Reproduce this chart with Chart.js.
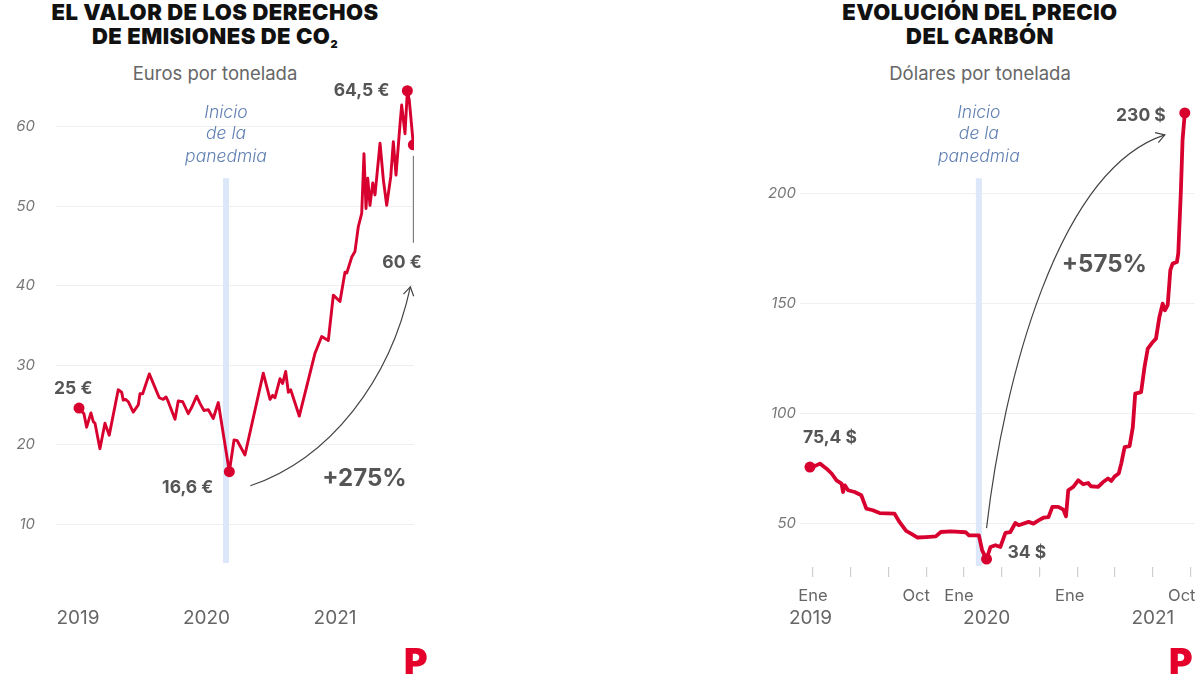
<!DOCTYPE html>
<html lang="es">
<head>
<meta charset="utf-8">
<title>CO2 y carbón</title>
<script src="https://cdn.jsdelivr.net/npm/chart.js@4.4.1/dist/chart.umd.min.js"></script>
<style>
  html, body { margin:0; padding:0; background:#fff; }
  body { width:1200px; height:675px; position:relative; overflow:hidden; font-family:Inter, "Noto Sans", sans-serif; }
  .title { position:absolute; top:0px; text-align:center; font-weight:900; font-size:22px; line-height:24px; color:#111; letter-spacing:0.5px; }
  .title sub { font-size:11px; vertical-align:-4px; }
  .sub { position:absolute; top:62px; text-align:center; font-size:18.5px; color:#666; }
  .logo { position:absolute; top:643px; font-weight:900; font-size:36px; color:#e4002b; line-height:36px; }
  canvas { position:absolute; top:0; }
</style>
</head>
<body>
<div class="title" style="left:15px;width:400px;">EL VALOR DE LOS DERECHOS<br>DE EMISIONES DE CO<sub>2</sub></div>
<div class="sub" style="left:15px;width:400px;">Euros por tonelada</div>
<div class="title" style="left:780px;width:400px;">EVOLUCIÓN DEL PRECIO<br>DEL CARBÓN</div>
<div class="sub" style="left:780px;width:400px;">Dólares por tonelada</div>
<canvas id="co2" width="440" height="675" style="left:0"></canvas>
<canvas id="coal" width="460" height="675" style="left:740px"></canvas>
<div class="logo" style="left:404px;">P</div>
<div class="logo" style="left:1169px;">P</div>
<script>
// Data: CO2 (meses desde ene-2019, euros/t)
const co2Months = [0.1,0.56,0.81,1.21,1.43,1.59,2.05,2.52,2.92,3.76,4.08,4.23,4.45,4.7,5.16,5.63,5.79,6.04,6.66,7.59,7.96,8.22,8.43,9.06,9.36,9.78,10.3,10.62,11.08,11.39,11.76,12.17,12.63,13.1,14.13,14.57,14.87,15.59,17.3,17.93,18.18,18.39,18.86,19.11,19.39,19.64,19.86,20.66,22.13,22.75,23.37,23.84,24.46,24.93,25.1,25.56,25.86,26.17,26.49,26.7,26.89,27.05,27.26,27.52,27.73,28.2,28.51,28.82,29.2,29.44,29.69,30.07,30.22,30.53,30.75,30.93,31.31];
const co2Values = [24.6,23.9,22.2,24.0,22.9,22.7,19.5,22.7,21.2,26.9,26.6,25.6,25.7,25.4,24.1,25.0,26.4,26.4,28.9,25.9,25.7,26.0,25.4,23.2,25.5,25.4,23.9,24.7,26.1,25.2,24.3,24.4,23.3,25.3,16.6,20.6,20.5,18.7,29.0,25.7,26.2,25.9,28.3,27.7,29.2,26.6,26.9,23.6,31.5,33.6,33.1,38.8,38.0,41.7,41.6,43.6,44.3,47.4,49.1,56.6,49.7,53.5,50.1,52.9,51.4,57.9,53.3,50.1,53.7,58.1,53.9,60.4,62.7,59.1,64.5,63.3,57.7];
const co2YTicks = [10,20,30,40,50,60];
const co2YearPos = [0,12,24];
const co2YearLabels = ['2019','2020','2021'];
const co2Pandemic = 13.82;

// Data: carbón (dólares/t)
const coalMonths = [-0.24,0.02,0.55,1.08,1.48,1.87,2.27,2.39,2.53,2.79,3.31,3.84,4.24,4.76,5.29,6.47,6.87,7.4,7.79,8.31,8.97,9.76,10.16,10.95,12.13,12.39,13.18,13.44,13.79,14.1,14.5,14.89,15.29,15.68,16.08,16.34,17.13,17.52,17.92,18.31,18.71,19.02,19.49,19.89,20.1,20.28,20.68,21.07,21.47,21.86,22.08,22.65,23.05,23.44,23.7,23.97,24.29,24.49,24.76,25.15,25.41,25.6,26.07,26.34,26.6,27.0,27.25,27.52,27.78,27.96,28.18,28.39,28.57,28.91,29.02,29.23,29.36,29.54];
const coalValues = [75.4,75.5,77.0,74.7,72.5,69.4,67.9,64.1,67.1,64.9,64.1,62.6,56.5,55.8,54.5,54.3,50.5,46.4,45.2,43.4,43.6,43.9,45.9,46.2,45.8,44.4,44.4,37.6,33.6,39.1,39.9,39.1,45.5,45.9,50.0,49.0,50.5,49.7,51.2,52.4,52.7,57.3,57.3,56.1,53.0,64.9,66.4,69.4,67.6,68.2,66.7,66.4,68.6,70.2,69.1,71.2,72.5,77.0,84.5,84.9,93.6,108.8,109.5,120.9,129.3,132.3,133.8,143.6,149.7,146.7,149.0,164.9,167.9,168.6,172.5,201.2,224.0,236.4];
const coalYTicks = [50,100,150,200];
const coalTickMonths = [0,3,6,9,12,15,18,21,24,27,30];
const coalMonthPos = [0,8.2,11.6,20.4,29.3];
const coalMonthLabels = ['Ene','Oct','Ene','Ene','Oct'];
const coalYearPos = [-0.2,13.8,27];
const coalYearLabels = ['2019','2020','2021'];
const coalPandemic = 13.18;

const RED = '#d7002f';
const DARK = '#555';
const FONT = 'Inter, "Noto Sans", sans-serif';

const pts = (xs, ys) => xs.map((x,i)=>({x, y:ys[i]}));
function keyPoints(xs, ys){
  let mn = 0, mx = 0;
  ys.forEach((v,i)=>{ if(v<ys[mn]) mn=i; if(v>ys[mx]) mx=i; });
  const last = ys.length-1;
  return { first:{x:xs[0],y:ys[0]}, min:{x:xs[mn],y:ys[mn]}, max:{x:xs[mx],y:ys[mx]}, last:{x:xs[last],y:ys[last]} };
}

function txt(ctx, s, x, y, opt){
  ctx.save();
  ctx.font = opt.font; ctx.fillStyle = opt.color || DARK;
  ctx.textAlign = opt.align || 'left'; ctx.textBaseline = 'middle';
  ctx.fillText(s, x, y);
  ctx.restore();
}
function arrow(ctx, p0, p1, p2, p3){
  ctx.save();
  ctx.strokeStyle = '#444'; ctx.lineWidth = 1.2;
  ctx.beginPath(); ctx.moveTo(p0.x,p0.y);
  ctx.bezierCurveTo(p1.x,p1.y,p2.x,p2.y,p3.x,p3.y); ctx.stroke();
  const a = Math.atan2(p3.y-p2.y, p3.x-p2.x), L = 10, w = 0.55;
  ctx.beginPath();
  ctx.moveTo(p3.x - L*Math.cos(a-w), p3.y - L*Math.sin(a-w));
  ctx.lineTo(p3.x, p3.y);
  ctx.lineTo(p3.x - L*Math.cos(a+w), p3.y - L*Math.sin(a+w));
  ctx.stroke();
  ctx.restore();
}
function band(ctx, chart, xv, topV){
  const {x, y} = chart.scales;
  const px = x.getPixelForValue(xv), top = y.getPixelForValue(topV), bot = chart.chartArea.bottom - 1;
  ctx.save();
  ctx.fillStyle = '#dce7fa';
  ctx.fillRect(px-3, top, 6, bot-top);
  const f = 'italic 300 17.5px ' + FONT, c = '#5f7fb2';
  txt(ctx, 'Inicio', px, top-66, {font:f, color:c, align:'center'});
  txt(ctx, 'de la', px, top-45, {font:f, color:c, align:'center'});
  txt(ctx, 'panedmia', px, top-22, {font:f, color:c, align:'center'});
  ctx.restore();
}
const P = (chart, p) => ({x: chart.scales.x.getPixelForValue(p.x), y: chart.scales.y.getPixelForValue(p.y)});
const add = (p, dx, dy) => ({x:p.x+dx, y:p.y+dy});

function yAxis(ticks, width, pad){
  return {
    afterBuildTicks: s => { s.ticks = ticks.map(v=>({value:v})); },
    afterFit: s => { s.width = width; },
    grid: { color:'#efefef', drawTicks:false },
    border: { display:false },
    ticks: { padding:pad, color:'#777', font:{ family:FONT, size:15, style:'italic' } }
  };
}
function lineDataset(xs, ys, w){
  return { data: pts(xs, ys), showLine:true, borderColor:RED, borderWidth:w, pointRadius:0, tension:0, borderJoinStyle:'round', borderCapStyle:'round' };
}
function dotDataset(kp, keys){
  return { data: keys.map(k=>kp[k]), showLine:false, pointRadius:5.5, pointBackgroundColor:RED, pointBorderWidth:0 };
}
const baseOpts = { responsive:false, animation:false, plugins:{ legend:{display:false}, tooltip:{enabled:false} } };

// ---- CO2 chart ----
const co2Key = keyPoints(co2Months, co2Values);
new Chart(document.getElementById('co2'), {
  type:'scatter',
  data:{ datasets:[ lineDataset(co2Months, co2Values, 2.9), dotDataset(co2Key, ['first','min','max','last']) ] },
  options:{ ...baseOpts,
    layout:{ padding:{ top:47, right:26, left:0, bottom:0 } },
    scales:{
      x:{ type:'linear', min:-2.05, max:31.37,
        afterBuildTicks: s => { s.ticks = co2YearPos.map(v=>({value:v})); },
        afterFit: s => { s.height = 111; },
        grid:{ display:false, drawTicks:false }, border:{ display:false },
        ticks:{ padding:43, color:'#666', maxRotation:0, font:{ family:FONT, size:19 },
          callback: v => co2YearLabels[co2YearPos.indexOf(v)] ?? '' } },
      y:{ min:5, max:70, ...yAxis(co2YTicks, 56, 21) }
    }
  },
  plugins:[{ id:'co2notes',
    beforeDatasetsDraw(chart){ band(chart.ctx, chart, co2Pandemic, 53.5); },
    afterDatasetsDraw(chart){
      const ctx = chart.ctx, b = 'bold 17.5px ' + FONT;
      const f = P(chart, co2Key.first), mn = P(chart, co2Key.min), mx = P(chart, co2Key.max), ls = P(chart, co2Key.last);
      txt(ctx, '25 €', f.x-25, f.y-19, {font:b});
      txt(ctx, '16,6 €', mn.x-16, mn.y+16, {font:b, align:'right'});
      txt(ctx, '64,5 €', mx.x-18, mx.y, {font:b, align:'right'});
      txt(ctx, '60 €', ls.x-31, ls.y+118, {font:b});
      txt(ctx, '+275%', mn.x+93, mn.y+7, {font:'bold 24px ' + FONT});
      ctx.save(); ctx.strokeStyle = '#666'; ctx.lineWidth = 1;
      ctx.beginPath(); ctx.moveTo(ls.x, ls.y+11); ctx.lineTo(ls.x, ls.y+98); ctx.stroke(); ctx.restore();
      const p0 = add(mn, 21, 14), p3 = add(ls, -3, 142);
      arrow(ctx, p0, add(p0, 80, -27), add(p3, -20, 93), p3);
    }
  }]
});

// ---- Carbón chart ----
const coalKey = keyPoints(coalMonths, coalValues);
new Chart(document.getElementById('coal'), {
  type:'scatter',
  data:{ datasets:[ lineDataset(coalMonths, coalValues, 3.8), dotDataset(coalKey, ['first','min','last']) ] },
  options:{ ...baseOpts,
    layout:{ padding:{ top:83, right:3, left:0, bottom:0 } },
    scales:{
      x:{ type:'linear', min:-1.03, max:30.31,
        afterBuildTicks: s => { s.ticks = coalTickMonths.map(v=>({value:v})); },
        afterFit: s => { s.height = 108; },
        grid:{ display:true, drawOnChartArea:false, drawTicks:true, tickLength:10, color:'#cfcfcf', lineWidth:1.2 },
        border:{ display:false },
        ticks:{ padding:0, callback: () => '' } },
      y:{ min:30, max:250, ...yAxis(coalYTicks, 60, 4) }
    }
  },
  plugins:[{ id:'coalnotes',
    beforeDatasetsDraw(chart){ band(chart.ctx, chart, coalPandemic, 206.7); },
    afterDraw(chart){
      const ctx = chart.ctx, xs = chart.scales.x;
      coalMonthPos.forEach((m,i)=> txt(ctx, coalMonthLabels[i], xs.getPixelForValue(m), 596, {font:'16.5px ' + FONT, color:'#666', align:'center'}));
      coalYearPos.forEach((m,i)=> txt(ctx, coalYearLabels[i], xs.getPixelForValue(m), 618, {font:'19px ' + FONT, color:'#666', align:'center'}));
    },
    afterDatasetsDraw(chart){
      const ctx = chart.ctx, b = 'bold 17.5px ' + FONT;
      const f = P(chart, coalKey.first), mn = P(chart, coalKey.min), ls = P(chart, coalKey.last);
      txt(ctx, '75,4 $', f.x-7, f.y-29, {font:b});
      txt(ctx, '34 $', mn.x+21, mn.y-6, {font:b});
      txt(ctx, '230 $', ls.x-19, ls.y+3, {font:b, align:'right'});
      txt(ctx, '+575%', ls.x-123, ls.y+152, {font:'bold 24px ' + FONT});
      const p0 = add(mn, 0, -31), p3 = add(ls, -20, 22);
      arrow(ctx, p0, add(p0, 17, -148), add(p3, -107, 35), p3);
    }
  }]
});
</script>
</body>
</html>
